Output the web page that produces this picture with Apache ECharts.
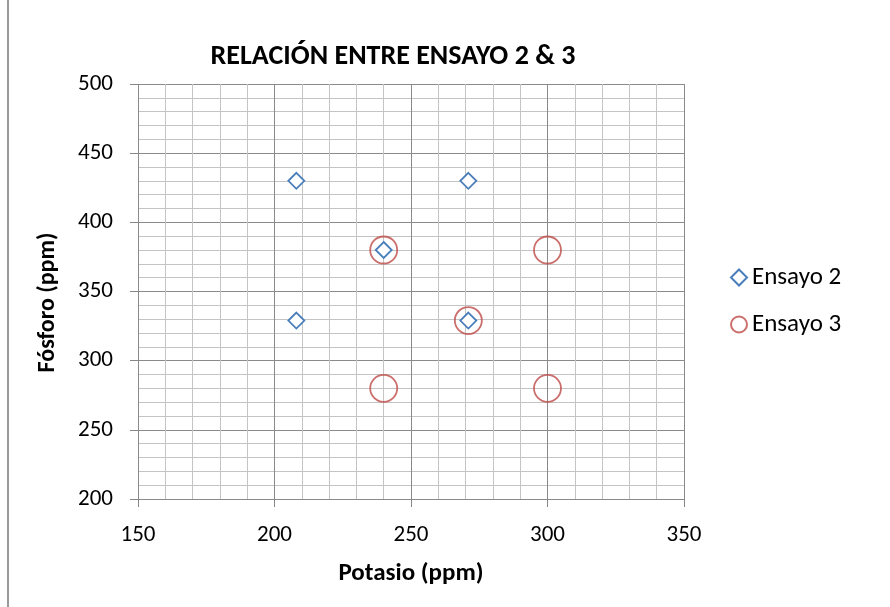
<!DOCTYPE html>
<html><head><meta charset="utf-8">
<script src="https://cdn.jsdelivr.net/npm/echarts@6/dist/echarts.min.js"></script>
<style>html,body{margin:0;padding:0;background:#fff}#c{width:890px;height:607px}</style>
</head><body><div id="c"></div>
<script>
const titleText = 'RELACIÓN ENTRE ENSAYO 2 & 3';
const xName = 'Potasio (ppm)';
const yName = 'Fósforo (ppm)';
const ensayo2 = [[208,430],[271,430],[240,380],[208,329],[271,329]];
const ensayo3 = [[240,380],[300,380],[271,329],[240,280],[300,280]];
const xRange = [150,350,50];
const yRange = [200,500,50];
const FONT = 'Carlito, Lato, sans-serif';
const chart = echarts.init(document.getElementById('c'));
const axisCommon = {
  axisLine:{show:false},
  axisTick:{show:true,inside:false,length:8,lineStyle:{color:'#868686'}},
  splitLine:{show:true,lineStyle:{color:'#8a8a8a',width:1}},
  minorTick:{show:false,splitNumber:5},
  minorSplitLine:{show:true,lineStyle:{color:'#c4c4c4',width:1}},
  axisLabel:{color:'#000',fontSize:23,fontFamily:FONT},
  nameTextStyle:{color:'#000',fontSize:25,fontWeight:'bold',fontFamily:FONT}
};
chart.setOption({
  animation:false,
  title:{text:titleText,left:388,top:38,textAlign:'center',textStyle:{fontSize:28,fontWeight:'bold',color:'#000',fontFamily:FONT}},
  grid:{left:138,right:206,top:84,bottom:108},
  legend:{orient:'vertical',left:725,top:260,itemGap:22,itemWidth:16,itemHeight:16,
    textStyle:{fontSize:25,color:'#000',fontFamily:FONT},
    data:[{name:'Ensayo 2',icon:'diamond'},{name:'Ensayo 3',icon:'circle'}]},
  xAxis:Object.assign({},axisCommon,{type:'value',min:xRange[0],max:xRange[1],interval:xRange[2],
    name:xName,nameLocation:'middle',nameGap:62,
    axisLabel:Object.assign({},axisCommon.axisLabel,{margin:25})}),
  yAxis:Object.assign({},axisCommon,{type:'value',min:yRange[0],max:yRange[1],interval:yRange[2],
    name:yName,nameLocation:'middle',nameGap:78,
    nameTextStyle:Object.assign({},axisCommon.nameTextStyle,{fontSize:24,padding:[0,22,0,0]}),
    axisLabel:Object.assign({},axisCommon.axisLabel,{margin:25})}),
  graphic:[{type:'line',shape:{x1:8,y1:0,x2:8,y2:607},style:{stroke:'#9a9a9a',lineWidth:2}}],
  series:[
    {name:'Ensayo 2',type:'scatter',symbol:'diamond',symbolSize:16,data:ensayo2,z:3,
     itemStyle:{color:'#fff',opacity:1,borderColor:'#4a7ebb',borderWidth:1.8}},
    {name:'Ensayo 3',type:'scatter',symbol:'circle',symbolSize:27,data:ensayo3,z:2,
     itemStyle:{color:'rgba(0,0,0,0)',borderColor:'#be4b48',borderWidth:1.8}}
  ]
});
</script></body></html>
